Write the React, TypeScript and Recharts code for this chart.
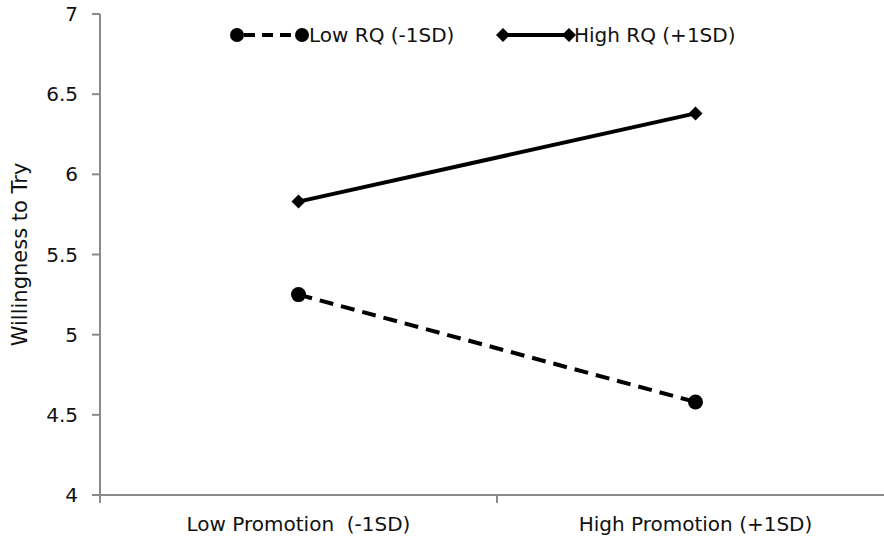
import { LineChart, Line, XAxis, YAxis, Legend } from "recharts";

const categories = ["Low Promotion  (-1SD)", "High Promotion (+1SD)"];
const lowRQ = [5.25, 4.58];
const highRQ = [5.83, 6.38];
const yTicks = [4, 4.5, 5, 5.5, 6, 6.5, 7];
const xTicks = [0, 0.5, 1, 1.5, 2];
const seriesNames = ["Low RQ (-1SD)", "High RQ (+1SD)"];

const data = categories.map((c, i) => ({
  x: i + 0.5,
  name: c,
  low: lowRQ[i],
  high: highRQ[i],
}));

const FONT = "'DejaVu Sans', sans-serif";
const AXIS = "#8a8a8a";

function XTick(props: any) {
  const { x, y, payload } = props;
  const v = payload.value;
  if (Number.isInteger(v)) {
    return <line x1={x} y1={y} x2={x} y2={y + 8} stroke={AXIS} strokeWidth={2} />;
  }
  return (
    <text x={x} y={y + 36} textAnchor="middle" fontSize={20} fontFamily={FONT} fill="#111" style={{ whiteSpace: "pre" }}>
      {categories[Math.floor(v)]}
    </text>
  );
}

function CircleDot(props: any) {
  const { cx, cy } = props;
  return <circle cx={cx} cy={cy} r={7.5} fill="#000" />;
}

function DiamondDot(props: any) {
  const { cx, cy } = props;
  const s = 7;
  return <polygon points={`${cx},${cy - s} ${cx + s},${cy} ${cx},${cy + s} ${cx - s},${cy}`} fill="#000" />;
}

// legend drawn in page coordinates, wrapper sits at top 24
function LegendContent() {
  const cy = 11;
  return (
    <svg width={884} height={26} style={{ display: "block" }}>
      <line x1={237} y1={cy} x2={302} y2={cy} stroke="#000" strokeWidth={4} strokeDasharray="11 7" strokeDashoffset={-7} />
      <circle cx={237} cy={cy} r={7} fill="#000" />
      <circle cx={302} cy={cy} r={7} fill="#000" />
      <text x={309} y={cy + 7} fontSize={20} fontFamily={FONT} fill="#111">{seriesNames[0]}</text>
      <line x1={503} y1={cy} x2={569} y2={cy} stroke="#000" strokeWidth={4} />
      <polygon points={`503,${cy - 7} 510,${cy} 503,${cy + 7} 496,${cy}`} fill="#000" />
      <polygon points={`569,${cy - 7} 576,${cy} 569,${cy + 7} 562,${cy}`} fill="#000" />
      <text x={574} y={cy + 7} fontSize={20} fontFamily={FONT} fill="#111">{seriesNames[1]}</text>
    </svg>
  );
}

export default function App() {
  return (
    <div style={{ position: "fixed", left: 0, top: 0, width: 884, height: 544, overflow: "hidden", background: "#fff" }}>
      <LineChart width={900} height={544} data={data} margin={{ top: 14, right: 6, bottom: 0, left: 0 }}>
        <XAxis
          type="number"
          dataKey="x"
          domain={[0, 2]}
          ticks={xTicks}
          interval={0}
          tickLine={false}
          tickSize={0}
          tickMargin={0}
          tick={<XTick />}
          axisLine={{ stroke: AXIS, strokeWidth: 2 }}
          height={49}
        />
        <YAxis
          domain={[4, 7]}
          ticks={yTicks}
          interval={0}
          width={100}
          tickSize={8}
          tickMargin={14}
          tickLine={{ stroke: AXIS, strokeWidth: 2 }}
          axisLine={{ stroke: AXIS, strokeWidth: 2 }}
          tick={{ fontSize: 20, fontFamily: FONT, fill: "#111" }}
          label={{ value: "Willingness to Try", angle: -90, position: "insideLeft", offset: 20, style: { fontSize: 21, fontFamily: FONT, fill: "#111", textAnchor: "middle" } }}
        />
        <Legend
          layout="horizontal"
          verticalAlign="middle"
          align="center"
          content={<LegendContent />}
          wrapperStyle={{ top: 24, left: 0, width: 884 }}
        />
        <Line
          dataKey="low"
          name={seriesNames[0]}
          stroke="#000"
          strokeWidth={4}
          strokeDasharray="14 8"
          dot={<CircleDot />}
          isAnimationActive={false}
        />
        <Line
          dataKey="high"
          name={seriesNames[1]}
          stroke="#000"
          strokeWidth={4}
          dot={<DiamondDot />}
          isAnimationActive={false}
        />
      </LineChart>
    </div>
  );
}
